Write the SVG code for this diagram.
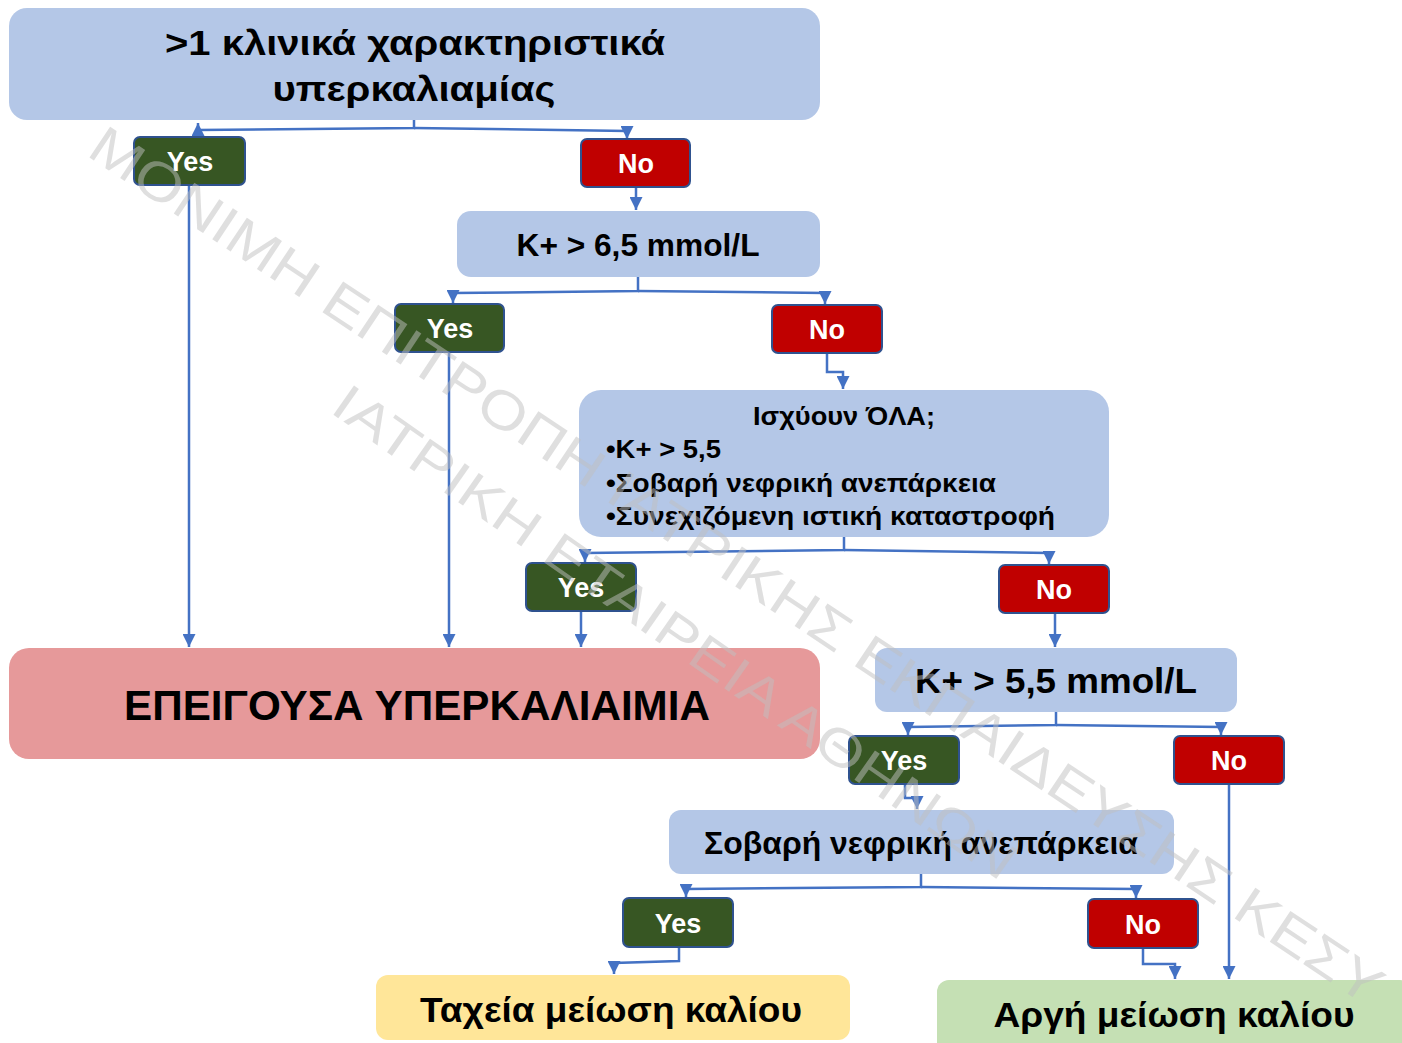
<svg xmlns="http://www.w3.org/2000/svg" width="1402" height="1043" viewBox="0 0 1402 1043">
<defs>
<marker id="arr" viewBox="0 0 10 10" refX="10" refY="5" markerWidth="13" markerHeight="13" markerUnits="userSpaceOnUse" orient="auto">
<path d="M0,0 L10,5 L0,10 z" fill="#4472C4"/>
</marker>
<style>
.blue{fill:#B4C7E7;}
.yes{fill:#375623;stroke:#2F528F;stroke-width:2;}
.no{fill:#C00000;stroke:#2F528F;stroke-width:2;}
.lbl{font-family:"Liberation Sans",Arial,sans-serif;font-weight:bold;font-size:27px;fill:#FFFFFF;text-anchor:middle;}
.t{font-family:"Liberation Sans",Arial,sans-serif;font-weight:bold;fill:#000000;text-anchor:middle;}
.tl{font-family:"Liberation Sans",Arial,sans-serif;font-weight:bold;fill:#000000;font-size:25px;}
.c{fill:none;stroke:#4472C4;stroke-width:2.5;marker-end:url(#arr);}
.wm{font-family:"Liberation Sans",Arial,sans-serif;fill:#BFBFBF;fill-opacity:0.5;text-anchor:middle;dominant-baseline:central;}
</style>
</defs>
<rect width="1402" height="1043" fill="#FFFFFF"/>

<g id="connectors">
<path class="c" d="M414,120 V128 L198,130 V123"/>
<path class="c" d="M414,128 L627,131 V139"/>
<path class="c" d="M636,187 V210"/>
<path class="c" d="M638,277 V291 L453,293 V303"/>
<path class="c" d="M638,291 L825,293 V304"/>
<path class="c" d="M189,185 V647"/>
<path class="c" d="M449,352 V647"/>
<path class="c" d="M827,353 V372 H843 V389"/>
<path class="c" d="M844,537 V550 L585,553 V562"/>
<path class="c" d="M844,550 L1049,553 V564"/>
<path class="c" d="M581,611 V647"/>
<path class="c" d="M1055,613 V647"/>
<path class="c" d="M1056,712 V725 L908,727 V735"/>
<path class="c" d="M1056,725 L1221,727 V735"/>
<path class="c" d="M905,784 V798 H917 V809"/>
<path class="c" d="M1229,784 V979"/>
<path class="c" d="M921,874 V887 L686,889 V897"/>
<path class="c" d="M921,887 L1136,889 V898"/>
<path class="c" d="M679,947 V961 L614,963 V974"/>
<path class="c" d="M1143,948 V964 H1175 V979"/>
</g>

<g id="n-top">
<rect class="blue" x="9" y="8" width="811" height="112" rx="18"/>
<text class="t" x="415" y="55" font-size="35" textLength="500" lengthAdjust="spacingAndGlyphs">&gt;1 κλινικά χαρακτηριστικά</text>
<text class="t" x="414" y="101" font-size="35" textLength="283" lengthAdjust="spacingAndGlyphs">υπερκαλιαμίας</text>
</g>
<g id="n-yes1"><rect class="yes" x="134" y="137" width="111" height="48" rx="6"/><text class="lbl" x="190" y="171">Yes</text></g>
<g id="n-no1"><rect class="no" x="581" y="139" width="109" height="48" rx="6"/><text class="lbl" x="636" y="173">No</text></g>
<g id="n-k65">
<rect class="blue" x="457" y="211" width="363" height="66" rx="14"/>
<text class="t" x="638" y="256" font-size="31" textLength="243" lengthAdjust="spacingAndGlyphs">K+ &gt; 6,5 mmol/L</text>
</g>
<g id="n-yes2"><rect class="yes" x="395" y="304" width="109" height="48" rx="6"/><text class="lbl" x="450" y="338">Yes</text></g>
<g id="n-no2"><rect class="no" x="772" y="305" width="110" height="48" rx="6"/><text class="lbl" x="827" y="339">No</text></g>
<g id="n-all">
<rect class="blue" x="579" y="390" width="530" height="147" rx="22"/>
<text class="t" x="844" y="425" font-size="25" textLength="182" lengthAdjust="spacingAndGlyphs">Ισχύουν ΌΛΑ;</text>
<text class="tl" x="606" y="458" textLength="115" lengthAdjust="spacingAndGlyphs">•K+ &gt; 5,5</text>
<text class="tl" x="606" y="492" textLength="390" lengthAdjust="spacingAndGlyphs">•Σοβαρή νεφρική ανεπάρκεια</text>
<text class="tl" x="606" y="525" textLength="449" lengthAdjust="spacingAndGlyphs">•Συνεχιζόμενη ιστική καταστροφή</text>
</g>
<g id="n-yes3"><rect class="yes" x="526" y="563" width="110" height="48" rx="6"/><text class="lbl" x="581" y="597">Yes</text></g>
<g id="n-no3"><rect class="no" x="999" y="565" width="110" height="48" rx="6"/><text class="lbl" x="1054" y="599">No</text></g>
<g id="n-urgent">
<rect x="9" y="648" width="811" height="111" rx="20" fill="#E6999A"/>
<text class="t" x="417" y="720" font-size="42" textLength="586" lengthAdjust="spacingAndGlyphs">ΕΠΕΙΓΟΥΣΑ ΥΠΕΡΚΑΛΙΑΙΜΙΑ</text>
</g>
<g id="n-k55">
<rect class="blue" x="875" y="648" width="362" height="64" rx="12"/>
<text class="t" x="1056" y="693" font-size="35" textLength="282" lengthAdjust="spacingAndGlyphs">K+ &gt; 5,5 mmol/L</text>
</g>
<g id="n-yes4"><rect class="yes" x="849" y="736" width="110" height="48" rx="6"/><text class="lbl" x="904" y="770">Yes</text></g>
<g id="n-no4"><rect class="no" x="1174" y="736" width="110" height="48" rx="6"/><text class="lbl" x="1229" y="770">No</text></g>
<g id="n-sev">
<rect class="blue" x="669" y="810" width="505" height="64" rx="12"/>
<text class="t" x="921" y="854" font-size="31" textLength="434" lengthAdjust="spacingAndGlyphs">Σοβαρή νεφρική ανεπάρκεια</text>
</g>
<g id="n-yes5"><rect class="yes" x="623" y="898" width="110" height="49" rx="6"/><text class="lbl" x="678" y="933">Yes</text></g>
<g id="n-no5"><rect class="no" x="1088" y="899" width="110" height="49" rx="6"/><text class="lbl" x="1143" y="934">No</text></g>
<g id="n-fast">
<rect x="376" y="975" width="474" height="65" rx="12" fill="#FFE699"/>
<text class="t" x="611" y="1022" font-size="35" textLength="382" lengthAdjust="spacingAndGlyphs">Ταχεία μείωση καλίου</text>
</g>
<g id="n-slow">
<rect x="937" y="980" width="475" height="75" rx="12" fill="#C5E0B4"/>
<text class="t" x="1174" y="1027" font-size="35" textLength="361" lengthAdjust="spacingAndGlyphs">Αργή μείωση καλίου</text>
</g>

<g id="watermark">
<text class="wm" transform="translate(737,565) rotate(33.6)" font-size="54" textLength="1540" lengthAdjust="spacingAndGlyphs">ΜΟΝΙΜΗ ΕΠΙΤΡΟΠΗ ΙΑΤΡΙΚΗΣ ΕΚΠΑΙΔΕΥΣΗΣ ΚΕΣΥ</text>
<text class="wm" transform="translate(675,632) rotate(35)" font-size="52" textLength="820" lengthAdjust="spacingAndGlyphs">ΙΑΤΡΙΚΗ ΕΤΑΙΡΕΙΑ ΑΘΗΝΩΝ</text>
</g>
</svg>
